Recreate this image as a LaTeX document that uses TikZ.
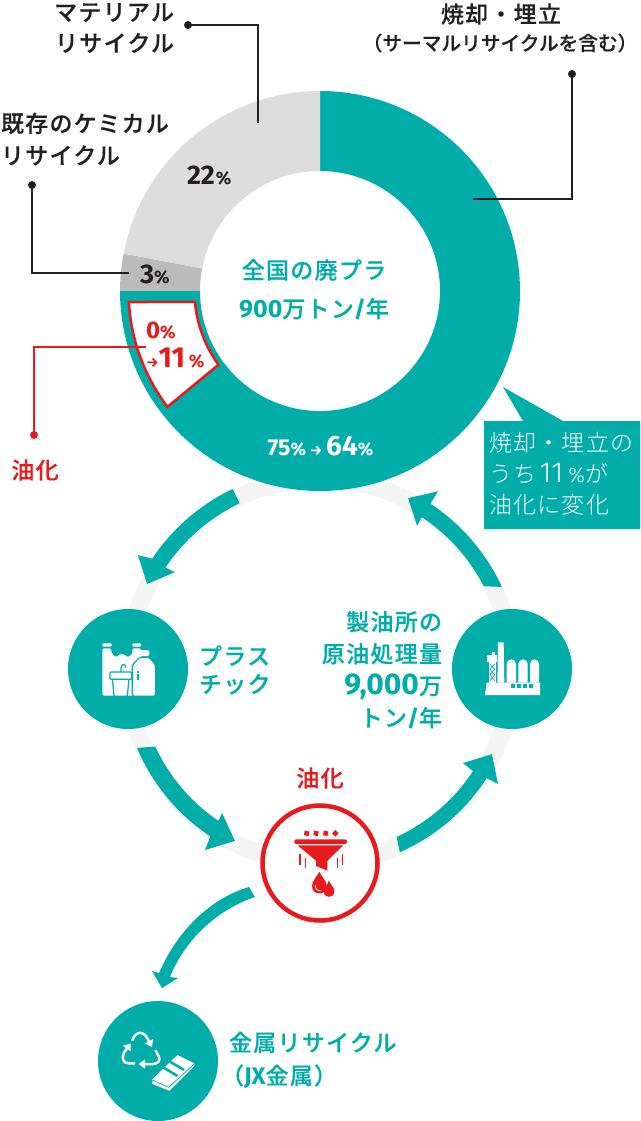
\documentclass[tikz,border=0pt]{standalone}
\usepackage{fontspec}
\usetikzlibrary{arrows.meta}
\newfontfamily\jpfont[LetterSpace=5.5,BoldFont={Noto Sans CJK JP Medium},BoldFeatures={FakeBold=0.35}]{Noto Sans CJK JP}
\newfontfamily\jpsub[BoldFont={Noto Sans CJK JP Medium},BoldFeatures={FakeBold=0.35}]{Noto Sans CJK JP}
\newfontfamily\jplight[LetterSpace=5]{Noto Sans CJK JP Light}
\newfontfamily\numfont{Fira Sans}
\newfontfamily\numlight{Fira Sans Light}
\newcommand\nf[2]{{\fontsize{#1}{#1}\selectfont\numfont\bfseries #2}}
\definecolor{teal1}{HTML}{00ADA9}
\definecolor{lgray}{HTML}{DDDDDD}
\definecolor{mgray}{HTML}{BBBBBB}
\definecolor{faint}{HTML}{F5F5F5}
\definecolor{ink}{HTML}{231F20}
\definecolor{red1}{HTML}{E71A1D}
\newcommand\sector[3]{\fill[#1] (#2:200) arc[start angle=#2,end angle=#3,radius=200] -- (#3:120) arc[start angle=#3,end angle=#2,radius=120] -- cycle;}
\tikzset{
  lab/.style={inner sep=0pt,outer sep=0pt,font=\jpfont\bfseries\fontsize{23}{31}\selectfont},
  lead/.style={line width=2pt,ink},
  dotk/.style={circle,fill=ink,inner sep=0pt,minimum size=8pt},
  dotr/.style={circle,fill=red1,inner sep=0pt,minimum size=8pt},
  stationc/.style={circle,fill=teal1,inner sep=0pt,minimum size=120pt},
  tealtxt/.style={lab,text=teal1},
  inktxt/.style={lab,text=ink},
  redtxt/.style={lab,text=red1},
  rtip/.style={-{Triangle[width=9pt,length=6.5pt]}}
}
\begin{document}
\begin{tikzpicture}[x=1pt,y=-1pt]
\useasboundingbox (0,0) rectangle (640,1121);
% faint ring
\node[circle,draw=faint,line width=18pt,inner sep=0pt,minimum size=384pt] (ring) at (320,671) {};
% donut
\begin{scope}[shift={(320,291)}]
\sector{teal1}{-90}{180}
\sector{mgray}{180}{190.8}
\sector{lgray}{190.8}{270}
\path[fill=white,draw=red1,line width=2.5pt,line join=miter] (176.7:191.5) -- (175:125.5) arc[start angle=175,end angle=144,radius=125.5] -- (142.8:191.5) arc[start angle=142.8,end angle=176.7,radius=191.5] -- cycle;
\end{scope}
% callout
\fill[teal1] (484,421) -- (523,421) -- (503,387) -- (563,421) -- (640,421) -- (640,529) -- (484,529) -- cycle;
% leaders
\node[dotk] (d1) at (188,25) {};
\coordinate (e1) at (258,123);
\draw[lead] (d1.center) -| (e1);
\node[dotk] (d2) at (32,185) {};
\coordinate (e2) at (129,273);
\draw[lead] (d2.center) |- (e2);
\node[dotk] (d3) at (572,74) {};
\coordinate (e3) at (473,199);
\draw[lead] (d3.center) |- (e3);
\node[dotr] (d4) at (34,435) {};
\coordinate (e4) at (146,347);
\draw[line width=2pt,red1] (d4.center) |- (e4);
% labels
\node[inktxt,anchor=east,align=right] (t1) at (174,28) {マテリアル\\リサイクル};
\node[inktxt,anchor=west,align=left,font=\jpfont\bfseries\fontsize{23}{32}\selectfont] (t2) at (1,139) {既存のケミカル\\リサイクル};
\node[inktxt] (t3) at (501,14) {焼却・埋立};
\node[inktxt,font=\jpsub\bfseries\fontsize{19.7}{24}\selectfont] (t4) at (500,43) {（サーマルリサイクルを含む）};
\node[inktxt,anchor=west] (p22) at (187,176) {\nf{27}{22}\hspace{1pt}\nf{18}{\%}};
\node[inktxt,anchor=west] (p3) at (140,275) {\nf{27}{3}\nf{18}{\%}};
\node[redtxt,anchor=west] (p0) at (146,331) {\nf{24}{0}\nf{18}{\%}};
\node[redtxt,anchor=west] (p11) at (146,358) {\nf{14}{→}\nf{29}{11}\,\nf{18}{\%}};
\node[lab,text=white] (p75) at (320.5,446) {\nf{23}{75}\nf{18}{\%}\,\nf{14}{→}\,\nf{28}{64}\nf{18}{\%}};
\node[tealtxt] (c1) at (314,270) {全国の廃プラ};
\node[tealtxt] (c2) at (314,309) {\nf{25}{900}万トン\nf{23}{/}年};
\node[redtxt] (t5) at (35,470) {油化};
\node[lab,text=white,anchor=west,align=left,font=\jplight\fontsize{23}{31}\selectfont] (cb) at (489.5,474) {焼却・埋立の\\うち\hspace{3pt}{\fontsize{29}{29}\selectfont\numlight 11}\hspace{5pt}{\fontsize{21}{21}\selectfont\numlight\%}\hspace{1pt}が\\油化に変化};
% cycle arrows
\begin{scope}[shift={(320,671)}]
\fill[teal1] (244.4:202) arc[start angle=244.4,end angle=213.8,radius=202] -- (212.5:216) -- (206.7:193.6) -- (214.3:175.6) -- (213.8:186) arc[start angle=213.8,end angle=244.4,radius=186] -- cycle;
\fill[teal1] (-24.8:200.4) arc[start angle=-24.8,end angle=-56.5,radius=201] -- (-56.7:215) -- (-63:194) -- (-56.2:174.5) -- (-56.5:184.5) arc[start angle=-56.5,end angle=-27.3,radius=184] -- cycle;
\fill[teal1] (157.2:198.5) arc[start angle=157.2,end angle=123.5,radius=198] -- (122.7:212.8) -- (116.6:190) -- (124.6:172.5) -- (124.1:181) arc[start angle=124.1,end angle=155.1,radius=182.5] -- cycle;
\fill[teal1] (66.2:198) arc[start angle=66.2,end angle=32.9,radius=198.9] -- (32.4:210.8) -- (25.8:191) -- (32.8:170) -- (33.2:182.8) arc[start angle=33.2,end angle=65.3,radius=182.3] -- cycle;
\end{scope}
\fill[teal1] (249,887) .. controls (215,897) and (180,925) .. (159,973) -- (152,971) -- (162,988) -- (178,978) -- (170,977) .. controls (187,935) and (222,908) .. (255,897) -- cycle;
% stations
\node[stationc] (plastic) at (128,669) {};
\node[stationc] (refinery) at (512,669) {};
\node[stationc] (metal) at (158,1061) {};
\node[circle,fill=white,draw=red1,line width=4.5pt,inner sep=0pt,minimum size=115pt] (oil) at (320,863) {};
% station labels
\node[tealtxt,anchor=west,align=left,font=\jpfont\bfseries\fontsize{23}{28}\selectfont] (s1) at (199,670) {プラス\\チック};
\node[tealtxt,anchor=east,align=right,font=\jpfont\bfseries\fontsize{23}{32}\selectfont] (s2) at (442,670) {製油所の\\原油処理量\\\nf{30}{9,000}万\\トン\nf{23}{/}年};
\node[redtxt] (s3) at (320,778) {油化};
\node[tealtxt,anchor=west,align=left,font=\jpfont\bfseries\fontsize{23}{33}\selectfont] (s4) at (229,1060) {金属リサイクル\\\hspace*{-8pt}（\nf{24}{JX}金属）};
% plastic icon
\begin{scope}[shift={(60,600)},scale=1/3]
\fill[white,rounded corners=1pt] (127,130) rectangle (155,140);
\fill[white,rounded corners=1pt] (217,130) rectangle (243,140);
\fill[white,rounded corners=1.5pt] (127,145) -- (153,145) -- (155,160) -- (167,172) -- (185,160) -- (205,172) -- (217,160) -- (217,145) -- (243,145) -- (243,220) -- (243,287) -- (127,287) -- cycle;
\fill[white,draw=teal1,line width=1.2pt,rounded corners=1pt] (157,234) -- (207,234) -- (202,289) -- (162,289) -- cycle;
\fill[white,draw=teal1,line width=1.2pt,rounded corners=1pt] (150,216) rectangle (215,238);
\draw[teal1,line width=1.2pt] (183,216) -- (183,205) .. controls (183,190) and (198,190) .. (198,203);
\fill[white,draw=teal1,line width=1.2pt,rounded corners=2.5pt] (217,289) -- (217,195) -- (238,172) -- (268,172) -- (287,195) -- (287,289) -- cycle;
\fill[white,rounded corners=1.5pt] (238,150) rectangle (268,168);
\fill[teal1] (232,213) rectangle (236,218);
\fill[teal1] (232,222) rectangle (236,240);
\end{scope}
% refinery icon
\begin{scope}[shift={(440,600)},scale=1/3]
\fill[white] (135,285) -- (140,248) -- (300,248) -- (300,285) -- cycle;
\fill[white] (142,165) rectangle (170,187);
\fill[white] (155,155) rectangle (165,165);
\fill[white] (147,187) rectangle (167,248);
\draw[teal1,line width=.7pt] (150,192) -- (164,208) -- (150,224) -- (164,242) (164,192) -- (150,208) -- (164,224) -- (150,242);
\fill[white] (174,127) -- (191,127) -- (193,248) -- (172,248) -- cycle;
\foreach \xa/\xb in {200/228,235/263,270/297}{
  \fill[white] (\xa,248) -- (\xa,192) arc[start angle=180,end angle=360,x radius={(\xb-\xa)/2},y radius=14] -- (\xb,248) -- cycle;
}
\foreach \xa in {213,231,249,268}{\fill[teal1] (\xa,253) rectangle ++(11,10);}
\end{scope}
% funnel icon
\begin{scope}[shift={(250,790)},scale=1/3]
\fill[red1,rounded corners=2pt] (133,148) rectangle (291,162);
\fill[red1] (143,166) -- (280,166) -- (232,212) -- (232,242) -- (198,228) -- (198,212) -- cycle;
\foreach \cx/\rot in {170/-12,198/-12,227/-12,256/45}{\fill[red1,rotate around={\rot:(\cx,130)}] (\cx-7,123) rectangle (\cx+7,137);}
\draw[red1,line width=1.4pt] (150,193) -- (150,225) (166,205) -- (166,235) (278,193) -- (278,225) (262,205) -- (262,235);
\fill[red1] (208,245) .. controls (200,262) and (186,272) .. (186,288) .. controls (186,318) and (230,318) .. (230,288) .. controls (230,272) and (216,262) .. (208,245) -- cycle;
\draw[white,line width=.8pt] (196,286) .. controls (196,298) and (203,303) .. (212,303);
\fill[red1] (237,272) .. controls (232,285) and (221,292) .. (221,304) .. controls (221,326) and (253,326) .. (253,304) .. controls (253,292) and (242,285) .. (237,272) -- cycle;
\end{scope}
% metal icon
\begin{scope}[shift={(90,990)},scale=1/3]
\draw[white,line width=2.5pt,rtip] (127,152) .. controls (135,122) and (162,122) .. (172,145) -- (186,171);
\draw[white,line width=2.5pt,rtip] (196,180) -- (205,197) .. controls (215,214) and (200,222) .. (188,222) -- (146,222);
\draw[white,line width=2.5pt,rtip] (135,220) -- (116,220) .. controls (98,220) and (94,202) .. (102,188) -- (122,160);
\fill[white] (187,268) -- (262,195) -- (313,220) -- (313,228) -- (238,302) -- (187,282) -- cycle;
\draw[teal1,line width=.7pt] (187,270) -- (236,292) -- (313,222);
\draw[teal1,line width=2.5pt] (220,232) -- (262,258) (240,215) -- (282,240);
\end{scope}
\end{tikzpicture}
\end{document}
